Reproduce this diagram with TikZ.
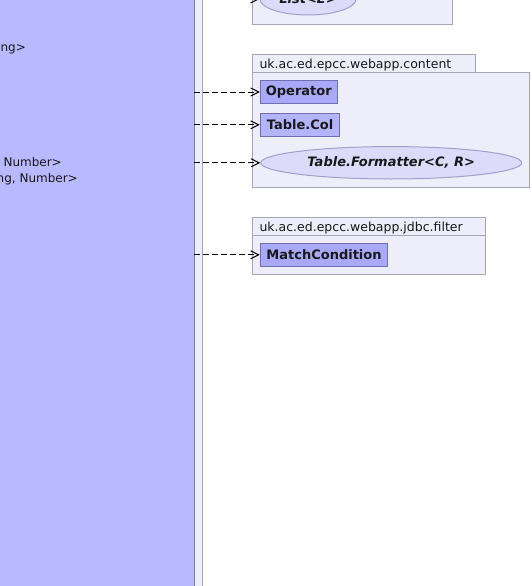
\documentclass[tikz,border=0pt]{standalone}
\usepackage{fontspec}
\setmainfont{DejaVu Sans}
\usetikzlibrary{arrows.meta,shapes.geometric}
\definecolor{leftfill}{RGB}{185,185,255}
\definecolor{leftline}{RGB}{128,128,168}
\definecolor{stripfill}{RGB}{238,238,255}
\definecolor{stripline}{RGB}{160,160,184}
\definecolor{pkgfill}{RGB}{238,238,251}
\definecolor{pkgline}{RGB}{166,166,182}
\definecolor{clsfill}{RGB}{169,169,248}
\definecolor{clsfillb}{RGB}{180,180,250}
\definecolor{clsline}{RGB}{112,112,176}
\definecolor{elfill}{RGB}{220,220,250}
\definecolor{elline}{RGB}{160,160,200}
\tikzset{
  pkg/.style={draw=pkgline, fill=pkgfill, line width=1pt},
  pkglabel/.style={anchor=base west, inner sep=0pt, font=\fontsize{12.5}{14}\selectfont, text=black!90},
  cls/.style={draw=clsline, fill=clsfill, line width=1pt, inner sep=0pt, font=\fontsize{13}{15}\selectfont\bfseries, text=black!90},
  iface/.style={ellipse, draw=elline, fill=elfill, line width=1pt, inner sep=0pt, font=\fontsize{13}{15}\selectfont\bfseries\itshape, text=black!90},
  cut/.style={anchor=base east, inner sep=0pt, font=\fontsize{12}{14}\selectfont, text=black!90},
  dep/.style={line width=1pt, dash pattern=on 6pt off 3pt, -{Straight Barb[length=8pt,width=8pt]}}
}
\begin{document}
\begin{tikzpicture}[x=1pt,y=-1pt]
\useasboundingbox (0,0) rectangle (532,586);
\clip (0,0) rectangle (532,586);
% left big class block and strip
\fill[leftfill] (-10,-10) rectangle (194.5,600);
\node[draw=none, fill=stripfill, minimum width=8pt, minimum height=620pt, inner sep=0pt] (strip) at (198.5,290) {};
\draw[leftline, line width=1pt] (194.5,-10) -- (194.5,600);
\draw[stripline, line width=1pt] (202.5,-10) -- (202.5,600);
\node[cut] (t1) at (26,52) {ng>};
\node[cut] (t2) at (62,166) {Number>};
\node[cut] (t3) at (78,182) {ng, Number>};
% top package (cut off)
\draw[pkg] (252.5,-10) rectangle (452.5,24.5);
\node[iface, minimum width=96pt, minimum height=32pt] (list) at (308,-1) {List<E>};
% content package
\draw[pkg] (252.5,54.5) rectangle (475.5,72.5);
\draw[pkg] (252.5,72.5) rectangle (529.5,187);
\node[pkglabel] (pc) at (259.3,68) {uk.ac.ed.epcc.webapp.content};
\node[cls, minimum width=77pt, minimum height=23.4pt] (op) at (298.8,92) {Operator};
\node[cls, fill=clsfillb, minimum width=79.4pt, minimum height=23pt] (col) at (300,124.8) {Table.Col};
\node[iface, minimum width=261pt, minimum height=32.4pt] (fmt) at (391.2,162.8) {Table.Formatter<C, R>};
% filter package
\draw[pkg] (252.5,217.3) rectangle (485.3,235);
\draw[pkg] (252.5,235) rectangle (485.3,274);
\node[pkglabel] (pf) at (259.3,231) {uk.ac.ed.epcc.webapp.jdbc.filter};
\node[cls, minimum width=127.4pt, minimum height=23pt] (mc) at (324,254.8) {MatchCondition};
% dependencies
\draw[dep] (strip.west |- list.west) -- (list.west);
\draw[dep] (strip.west |- op.west) -- (op.west);
\draw[dep] (strip.west |- col.west) -- (col.west);
\draw[dep] (strip.west |- fmt.west) -- (fmt.west);
\draw[dep] (strip.west |- mc.west) -- (mc.west);
\end{tikzpicture}
\end{document}
